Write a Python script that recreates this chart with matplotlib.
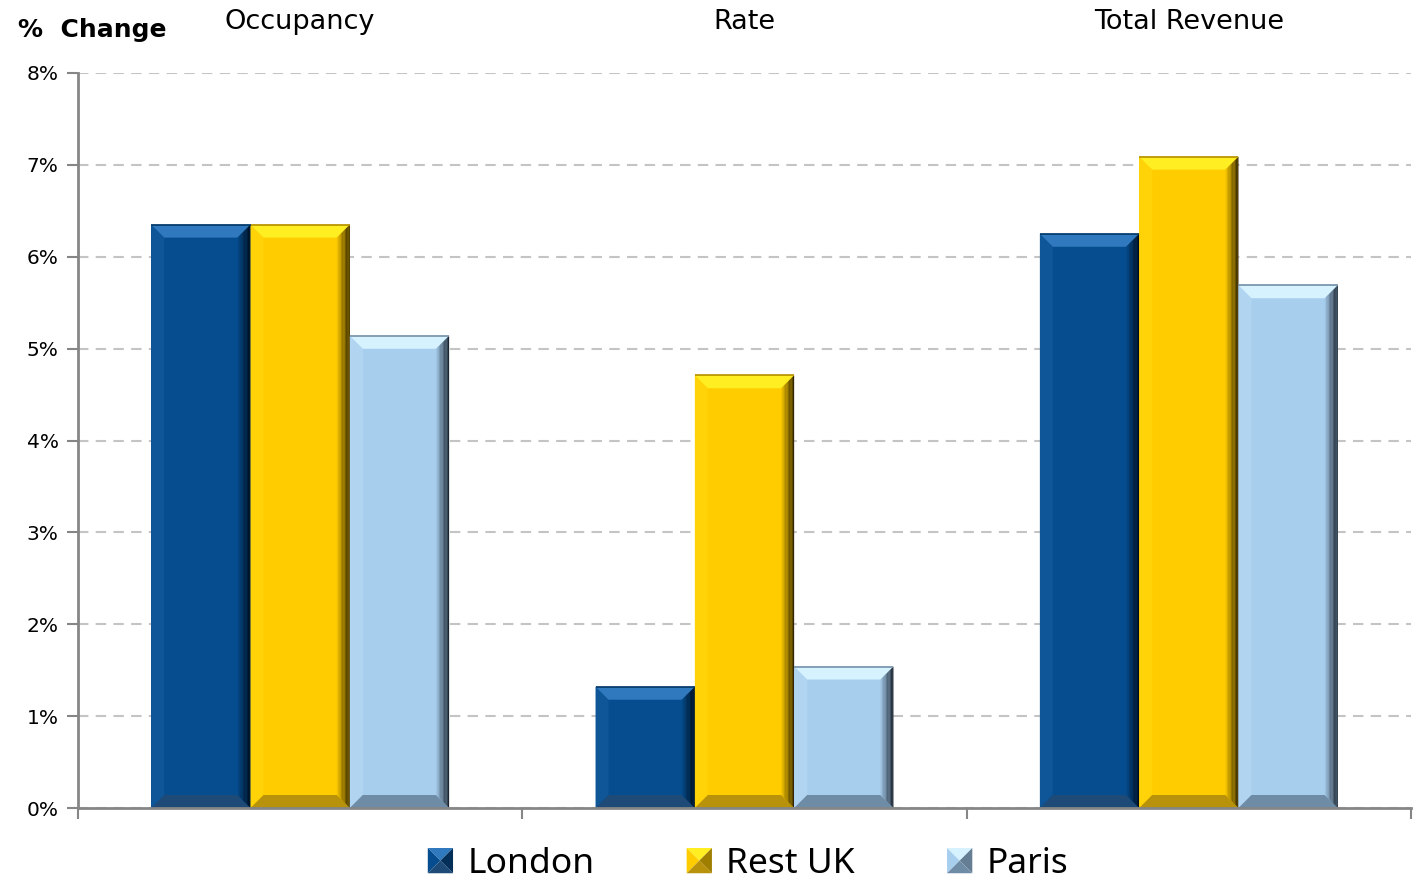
import numpy as np
import matplotlib.pyplot as plt
from matplotlib.patches import Polygon
from matplotlib.transforms import IdentityTransform
from matplotlib.legend_handler import HandlerBase
from matplotlib.colors import to_rgb

# percentage change by measure
categories = ['Occupancy', 'Rate', 'Total Revenue']
series = ['London', 'Rest UK', 'Paris']
london = [6.35, 1.32, 6.25]
rest_uk = [6.35, 4.71, 7.09]
paris = [5.14, 1.54, 5.69]
yticks = [0, 1, 2, 3, 4, 5, 6, 7, 8]

colors = {'London': '#054D8E', 'Rest UK': '#FFCC00', 'Paris': '#A8CEEE'}
top_col = {'London': '#3079BE', 'Rest UK': '#FFEE22', 'Paris': '#D6F2FF'}
bot_col = {'London': '#1E4A78', 'Rest UK': '#B8920A', 'Paris': '#6E8CA6'}
edge_col = {'London': '#000A18', 'Rest UK': '#2A1F00', 'Paris': '#141C26'}


def mix(c1, c2, t):
    a = np.array(to_rgb(c1))
    b = np.array(to_rgb(c2))
    return tuple(a + (b - a) * t)


def bevel(ax, patch, name, b=13, n=10):
    # shaded bevel drawn in pixel space over a plain bar
    tr = ax.transData
    (x0, y0), (x1, y1) = tr.transform([(patch.get_x(), patch.get_y()),
                                      (patch.get_x() + patch.get_width(),
                                       patch.get_y() + patch.get_height())])
    b = min(b, (y1 - y0) / 2)
    idt = IdentityTransform()
    base = colors[name]
    kw = dict(transform=idt, lw=0, zorder=3)
    # left face
    ax.add_patch(Polygon([(x0, y0), (x0, y1), (x0 + b, y1 - b), (x0 + b, y0 + b)],
                         fc=mix(base, top_col[name], 0.2), **kw))
    # bottom face
    ax.add_patch(Polygon([(x0, y0), (x1, y0), (x1 - b, y0 + b), (x0 + b, y0 + b)],
                         fc=bot_col[name], **kw))
    # top face
    ax.add_patch(Polygon([(x0, y1), (x1, y1), (x1 - b, y1 - b), (x0 + b, y1 - b)],
                         fc=top_col[name], **kw))
    # right face, graded towards a dark edge
    for k in range(n):
        xa = x1 - b + k * b / n
        xb = x1 - b + (k + 1) * b / n
        c = mix(base, edge_col[name], ((k + 0.5) / n) ** 0.9)
        ax.add_patch(Polygon([(xa, y0 + (x1 - xa)), (xb, y0 + (x1 - xb)),
                              (xb, y1 - (x1 - xb)), (xa, y1 - (x1 - xa))],
                             fc=c, **kw))
    # thin outline along the top
    ax.plot([x0, x1], [y1, y1], color=mix(base, edge_col[name], 0.35), lw=1.2,
            transform=idt, zorder=4, solid_capstyle='butt')


class PyramidHandler(HandlerBase):
    def create_artists(self, legend, orig, xd, yd, w, h, fs, trans):
        name = orig.get_label()
        s = min(w, h)
        x0, y0 = -xd + (w - s) / 2, -yd + (h - s) / 2
        x1, y1 = x0 + s, y0 + s
        xc, yc = (x0 + x1) / 2, (y0 + y1) / 2
        base = colors[name]
        faces = [
            ([(x0, y1), (x1, y1), (xc, yc)], top_col[name]),
            ([(x0, y0), (x0, y1), (xc, yc)], base),
            ([(x1, y0), (x1, y1), (xc, yc)], mix(base, edge_col[name], 0.45)),
            ([(x0, y0), (x1, y0), (xc, yc)], bot_col[name]),
        ]
        return [Polygon(p, fc=c, lw=0, transform=trans) for p, c in faces]


fig = plt.figure(figsize=(14.21, 8.81), dpi=100)
ax = fig.add_axes([78 / 1421, 73 / 881, 1333 / 1421, 735 / 881])

x = np.arange(len(categories))
width = 0.2235
handles = []
for i, (name, vals) in enumerate(zip(series, [london, rest_uk, paris])):
    bars = ax.bar(x + (i - 1) * width, vals, width, color=colors[name],
                  label=name, zorder=2, linewidth=0)
    handles.append(bars)

ax.set_xlim(-0.5, 2.5)
ax.set_ylim(0, 8)
ax.set_yticks(yticks)
ax.set_yticklabels([f'{v}%' for v in yticks], fontsize=14.5)
ax.set_xticks([-0.5, 0.5, 1.5, 2.5])
ax.set_xticklabels([])
ax.tick_params(axis='both', direction='out', length=8, width=1.5, color='#868686')
ax.tick_params(axis='y', pad=6)

ax.yaxis.grid(True, linestyle=(0, (5, 3.5)), color='#C4C4C4', linewidth=1.5, zorder=0)
ax.set_axisbelow(True)
for s in ['top', 'right']:
    ax.spines[s].set_visible(False)
for s in ['left', 'bottom']:
    ax.spines[s].set_color('#868686')
    ax.spines[s].set_linewidth(2)
    ax.spines[s].set_zorder(5)

for bars, name in zip(handles, series):
    for p in bars.patches:
        bevel(ax, p, name)

# category names along the top
for xi, cat in zip(x, categories):
    xf = fig.transFigure.inverted().transform(ax.transData.transform((xi, 0)))[0]
    fig.text(xf, 1 - 22 / 881, cat, fontsize=19.5, ha='center', va='center')
fig.text(18 / 1421, 1 - 30 / 881, '%  Change', fontsize=18, fontweight='bold',
         ha='left', va='center')

proxies = [plt.Rectangle((0, 0), 1, 1, label=n) for n in series]
fig.legend(handles=proxies, labels=series, loc='center', ncol=3,
           bbox_to_anchor=(748 / 1421, 1 - 864 / 881), frameon=False,
           prop={'family': 'Noto Sans', 'size': 25.5},
           handler_map={plt.Rectangle: PyramidHandler()},
           handlelength=0.72, handleheight=0.72, handletextpad=0.4,
           columnspacing=2.6)

fig.savefig('out.png', dpi=100)
